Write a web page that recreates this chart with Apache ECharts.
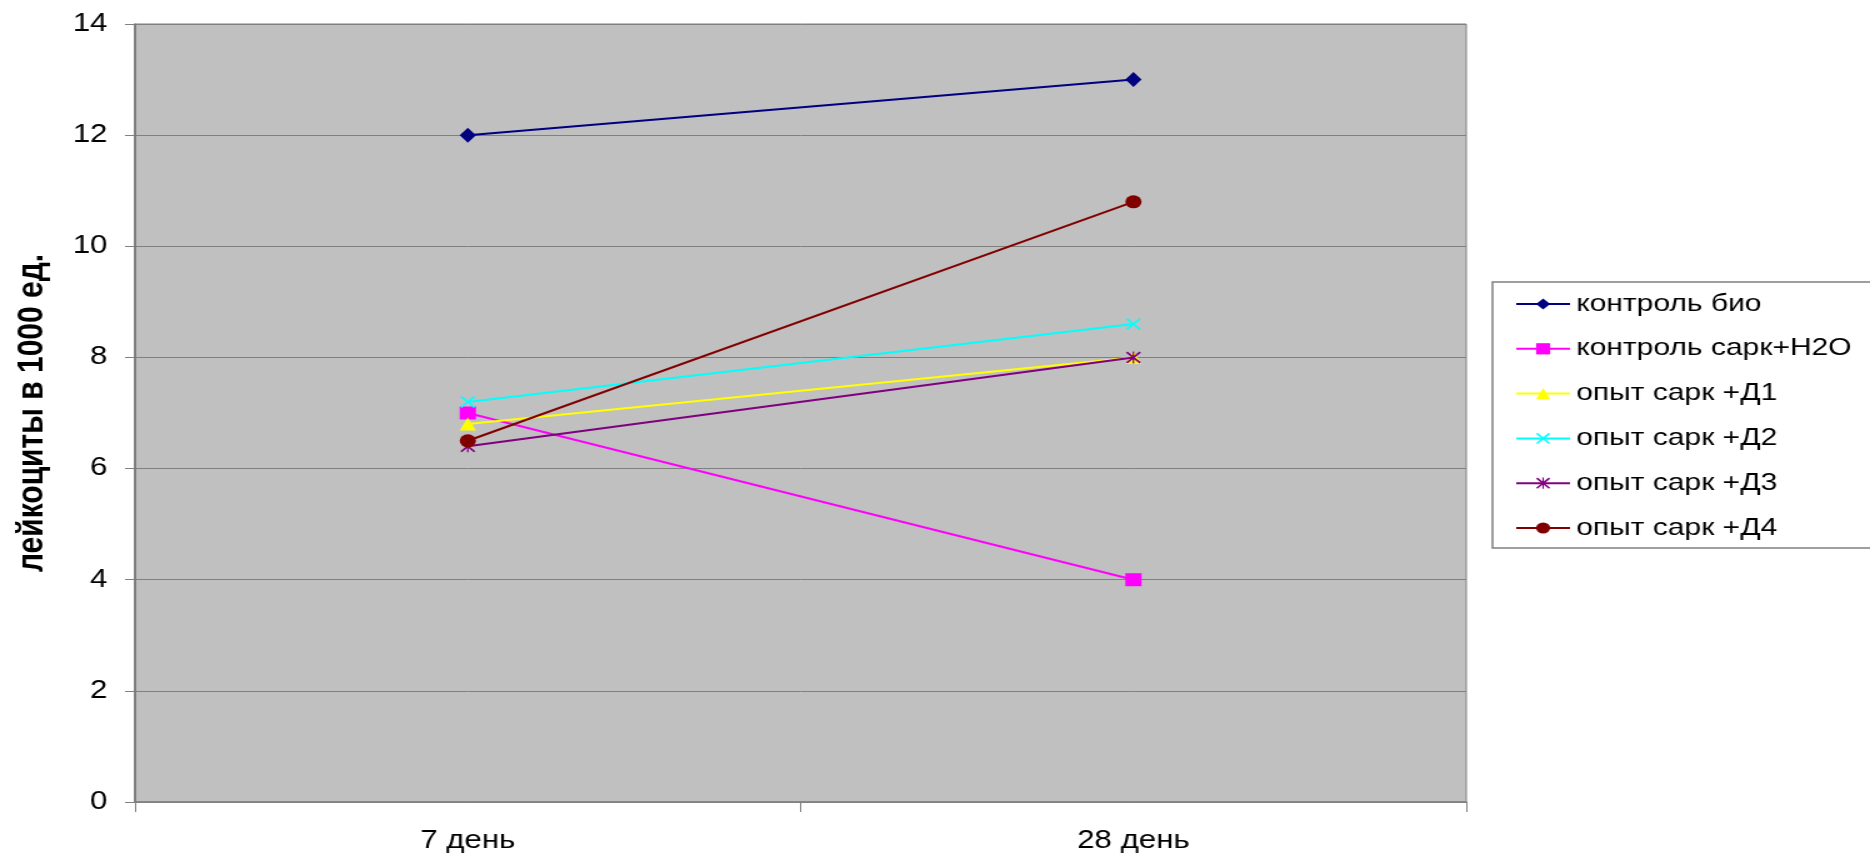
<!DOCTYPE html>
<html>
<head>
<meta charset="utf-8">
<script src="https://cdn.jsdelivr.net/npm/echarts@6/dist/echarts.min.js"></script>
<style>
  html, body { margin: 0; padding: 0; background: #ffffff; overflow: hidden; }
  /* the chart is laid out at 1496px and widened to the full 1870px window */
  #chart { width: 1496px; height: 856px; transform: scaleX(1.25); transform-origin: 0 0; }
</style>
</head>
<body>
<div id="chart"></div>
<script>
// Days of observation
const categories = ['7 день', '28 день'];

// Leukocyte counts, thousands of units
const kontrolBio = [12, 13];
const kontrolSarkH2O = [7, 4];
const opytD1 = [6.8, 8];
const opytD2 = [7.2, 8.6];
const opytD3 = [6.4, 8];
const opytD4 = [6.5, 10.8];

const seriesNames = [
  'контроль био',
  'контроль сарк+H2O',
  'опыт сарк +Д1',
  'опыт сарк +Д2',
  'опыт сарк +Д3',
  'опыт сарк +Д4'
];

const yMin = 0;
const yMax = 14;
const yStep = 2;
const yTitle = 'лейкоциты в 1000 ед.';

const FONT = "'Liberation Sans', Arial, sans-serif";

// Marker shapes: cross and asterisk
const crossPath = 'path://M0,2 L2,0 L10,8 L18,0 L20,2 L12,10 L20,18 L18,20 L10,12 L2,20 L0,18 L8,10 Z';
const starPath = 'path://M0,2 L2,0 L10,8 L18,0 L20,2 L12,10 L20,18 L18,20 L10,12 L2,20 L0,18 L8,10 Z M9,0 L11,0 L11,20 L9,20 Z';

const seriesDefs = [
  { data: kontrolBio,     color: '#000080', symbol: 'diamond',  size: [13, 15] },
  { data: kontrolSarkH2O, color: '#ff00ff', symbol: 'rect',     size: 13 },
  { data: opytD1,         color: '#ffff00', symbol: 'triangle', size: 13 },
  { data: opytD2,         color: '#00ffff', symbol: crossPath,  size: 12 },
  { data: opytD3,         color: '#800080', symbol: starPath,   size: 12 },
  { data: opytD4,         color: '#800000', symbol: 'circle',   size: 13 }
];

const chart = echarts.init(document.getElementById('chart'), null, { renderer: 'canvas' });

chart.setOption({
  animation: false,
  backgroundColor: '#ffffff',
  textStyle: { fontFamily: FONT, color: '#000000' },
  grid: {
    left: 108,
    right: 323,
    top: 24,
    bottom: 54,
    show: true,
    backgroundColor: '#c0c0c0',
    borderColor: '#808080',
    borderWidth: 1
  },
  legend: {
    orient: 'vertical',
    left: 1194,
    top: 282,
    padding: [10, 60, 8, 18],
    itemGap: 20.8,
    itemWidth: 43,
    itemHeight: 14,
    backgroundColor: '#ffffff',
    borderColor: '#808080',
    borderWidth: 1.5,
    textStyle: { fontFamily: FONT, fontSize: 24, lineHeight: 24, color: '#000000' },
    data: seriesNames
  },
  xAxis: {
    type: 'category',
    data: categories,
    boundaryGap: true,
    axisLine: { lineStyle: { color: '#808080', width: 1.5 } },
    axisTick: { show: true, length: 10, interval: 0, lineStyle: { color: '#808080', width: 1 } },
    axisLabel: { fontFamily: FONT, fontSize: 25, color: '#000000', margin: 27 },
    splitLine: { show: false }
  },
  yAxis: {
    type: 'value',
    min: yMin,
    max: yMax,
    interval: yStep,
    name: yTitle,
    nameLocation: 'middle',
    nameRotate: 90,
    nameGap: 67,
    nameTextStyle: { fontFamily: FONT, fontSize: 30, fontWeight: 'bold', color: '#000000' },
    axisLine: { show: true, lineStyle: { color: '#707070', width: 1.5 } },
    axisTick: { show: true, length: 8, lineStyle: { color: '#808080', width: 1 } },
    axisLabel: { fontFamily: FONT, fontSize: 25, color: '#000000', margin: 22 },
    splitLine: { show: true, lineStyle: { color: '#808080', width: 1 } }
  },
  series: seriesDefs.map((s, i) => ({
    name: seriesNames[i],
    type: 'line',
    data: s.data,
    symbol: s.symbol,
    symbolSize: s.size,
    showAllSymbol: true,
    lineStyle: { color: s.color, width: 2 },
    itemStyle: { color: s.color, borderWidth: 0 },
    emphasis: { disabled: true },
    z: 2 + i
  }))
});
</script>
</body>
</html>
